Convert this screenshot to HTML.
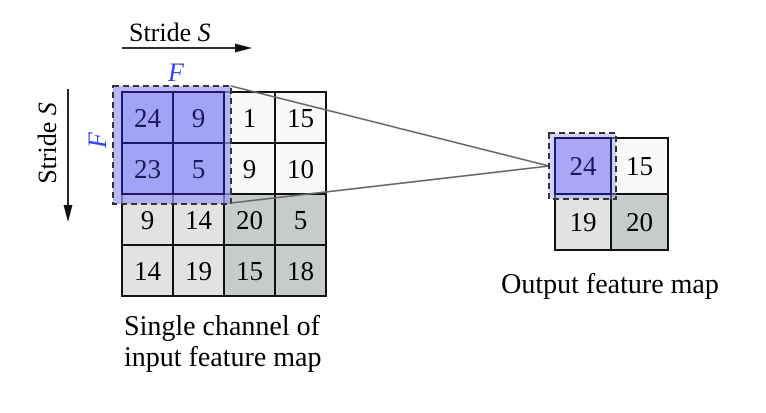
<!DOCTYPE html>
<html><head><meta charset="utf-8"><style>
html,body{margin:0;padding:0;background:#fff;}
svg{display:block;}
text{font-family:"Liberation Serif",serif;}
</style></head><body>
<svg width="766" height="413" viewBox="0 0 766 413" xmlns="http://www.w3.org/2000/svg">
<g stroke="#111" stroke-width="2">
<rect x="122" y="92" width="51" height="51" fill="#b4b4f8"/>
<rect x="173" y="92" width="51" height="51" fill="#b4b4f8"/>
<rect x="224" y="92" width="51" height="51" fill="#f9f9f9"/>
<rect x="275" y="92" width="51" height="51" fill="#f9f9f9"/>
<rect x="122" y="143" width="51" height="51" fill="#b4b4f8"/>
<rect x="173" y="143" width="51" height="51" fill="#b4b4f8"/>
<rect x="224" y="143" width="51" height="51" fill="#f9f9f9"/>
<rect x="275" y="143" width="51" height="51" fill="#f9f9f9"/>
<rect x="122" y="194" width="51" height="51" fill="#e0e3e0"/>
<rect x="173" y="194" width="51" height="51" fill="#e0e3e0"/>
<rect x="224" y="194" width="51" height="51" fill="#c6cdc9"/>
<rect x="275" y="194" width="51" height="51" fill="#c6cdc9"/>
<rect x="122" y="245" width="51" height="51" fill="#e0e3e0"/>
<rect x="173" y="245" width="51" height="51" fill="#e0e3e0"/>
<rect x="224" y="245" width="51" height="51" fill="#c6cdc9"/>
<rect x="275" y="245" width="51" height="51" fill="#c6cdc9"/>
</g>
<rect x="113" y="86" width="118" height="118" fill="#9a9af5" fill-opacity="0.7" stroke="#333" stroke-width="2" stroke-dasharray="6,4"/>
<g stroke="#1a1a6a" stroke-width="2" fill="none">
<rect x="122" y="92" width="102" height="102"/>
<line x1="173" y1="92" x2="173" y2="194"/><line x1="122" y1="143" x2="224" y2="143"/>
</g>
<g font-size="27" text-anchor="middle">
<text x="147.5" y="127" fill="#1a1a5a">24</text><text x="198.5" y="127" fill="#1a1a5a">9</text>
<text x="249.5" y="127">1</text><text x="300.5" y="127">15</text>
<text x="147.5" y="178" fill="#1a1a5a">23</text><text x="198.5" y="178" fill="#1a1a5a">5</text>
<text x="249.5" y="178">9</text><text x="300.5" y="178">10</text>
<text x="147.5" y="229">9</text><text x="198.5" y="229">14</text>
<text x="249.5" y="229">20</text><text x="300.5" y="229">5</text>
<text x="147.5" y="280">14</text><text x="198.5" y="280">19</text>
<text x="249.5" y="280">15</text><text x="300.5" y="280">18</text>
</g>
<line x1="231" y1="86" x2="549" y2="166" stroke="#666" stroke-width="1.6"/>
<line x1="231" y1="203" x2="549" y2="166" stroke="#666" stroke-width="1.6"/>
<g stroke="#111" stroke-width="2">
<rect x="555" y="138" width="56" height="56" fill="#b4b4f8"/>
<rect x="611" y="138" width="57" height="56" fill="#f9f9f9"/>
<rect x="555" y="194" width="56" height="56" fill="#e0e3e0"/>
<rect x="611" y="194" width="57" height="56" fill="#c6cdc9"/>
</g>
<rect x="549" y="133" width="67" height="66" fill="#9a9af5" fill-opacity="0.45" stroke="#333" stroke-width="2" stroke-dasharray="6,4"/>
<rect x="555" y="138" width="56" height="56" fill="none" stroke="#1a1a6a" stroke-width="2"/>
<g font-size="27" text-anchor="middle">
<text x="583" y="175" fill="#1a1a5a">24</text><text x="639.5" y="175">15</text>
<text x="583" y="231">19</text><text x="639.5" y="231">20</text>
</g>
<text x="129" y="41" font-size="26">Stride <tspan font-style="italic">S</tspan></text>
<line x1="122" y1="48" x2="240" y2="48" stroke="#111" stroke-width="1.8"/>
<polygon points="252,48 235,43.5 235,52.5" fill="#111"/>
<text x="176" y="81" font-size="26" font-style="italic" fill="#3344ff" text-anchor="middle">F</text>
<text transform="translate(56,143) rotate(-90)" font-size="26" text-anchor="middle">Stride <tspan font-style="italic">S</tspan></text>
<line x1="68" y1="89" x2="68" y2="208" stroke="#111" stroke-width="1.8"/>
<polygon points="68,222 63.5,205 72.5,205" fill="#111"/>
<text transform="translate(106,140) rotate(-90)" font-size="26" font-style="italic" fill="#3344ff" text-anchor="middle">F</text>
<text x="124" y="335" font-size="28">Single channel of</text>
<text x="124" y="366" font-size="28">input feature map</text>
<text x="610" y="293" font-size="28" text-anchor="middle">Output feature map</text>
</svg>
</body></html>
